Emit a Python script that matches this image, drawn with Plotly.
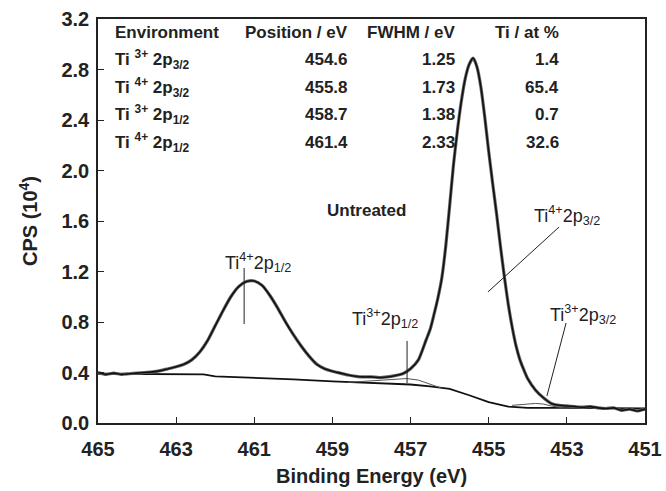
import plotly.graph_objects as go

# ---------------- data ----------------
energy = [465.0, 464.8, 464.6, 464.4, 464.2, 464.0, 463.8, 463.6, 463.4, 463.2,
          463.0, 462.8, 462.6, 462.4, 462.2, 462.0, 461.8, 461.6, 461.4, 461.2,
          461.0, 460.8, 460.6, 460.4, 460.2, 460.0, 459.8, 459.6, 459.4, 459.2,
          459.0, 458.8, 458.6, 458.4, 458.2, 458.0, 457.8, 457.6, 457.4, 457.2,
          457.0, 456.8, 456.6, 456.5, 456.4, 456.3, 456.2, 456.1, 456.0, 455.9,
          455.8, 455.7, 455.6, 455.5, 455.4, 455.3, 455.2, 455.1, 455.0, 454.9,
          454.8, 454.7, 454.6, 454.5, 454.4, 454.3, 454.2, 454.1, 454.0, 453.8,
          453.6, 453.4, 453.2, 453.0, 452.8, 452.6, 452.4, 452.2, 452.0, 451.8,
          451.6, 451.4, 451.2, 451.0]
cps = [0.40, 0.385, 0.395, 0.385, 0.39, 0.395, 0.40, 0.405, 0.415, 0.43,
       0.445, 0.465, 0.50, 0.56, 0.65, 0.77, 0.89, 1.00, 1.08, 1.12,
       1.125, 1.09, 1.01, 0.91, 0.80, 0.70, 0.61, 0.53, 0.465, 0.43,
       0.41, 0.395, 0.38, 0.37, 0.365, 0.365, 0.36, 0.365, 0.375, 0.39,
       0.43, 0.50, 0.66, 0.74, 0.86, 0.99, 1.15, 1.40, 1.72, 2.05,
       2.32, 2.55, 2.73, 2.84, 2.89, 2.82, 2.66, 2.42, 2.15, 1.90,
       1.66, 1.40, 1.16, 0.94, 0.76, 0.61, 0.50, 0.42, 0.35, 0.26,
       0.20, 0.155, 0.14, 0.135, 0.13, 0.125, 0.13, 0.12, 0.115, 0.12,
       0.10, 0.11, 0.095, 0.11]

bg_energy = [465.0, 464.0, 463.0, 462.3, 462.0, 461.0, 460.0, 459.0, 458.0, 457.0,
             456.5, 456.0, 455.5, 455.0, 454.5, 454.0, 453.0, 452.0, 451.0]
bg_cps = [0.39, 0.39, 0.39, 0.385, 0.37, 0.36, 0.345, 0.33, 0.315, 0.305,
          0.29, 0.27, 0.22, 0.165, 0.13, 0.12, 0.12, 0.12, 0.115]

ti3_p12_energy = [458.6, 458.2, 457.8, 457.4, 457.1, 456.8, 456.5, 456.2]
ti3_p12_cps = [0.322, 0.33, 0.34, 0.35, 0.352, 0.34, 0.31, 0.275]

ti3_p32_energy = [454.4, 454.1, 453.8, 453.6, 453.4, 453.1]
ti3_p32_cps = [0.14, 0.15, 0.155, 0.15, 0.135, 0.12]

table_header = ["Environment", "Position / eV", "FWHM / eV", "Ti / at %"]
table_env = ["Ti <sup>3+</sup> 2p<sub>3/2</sub>", "Ti <sup>4+</sup> 2p<sub>3/2</sub>",
             "Ti <sup>3+</sup> 2p<sub>1/2</sub>", "Ti <sup>4+</sup> 2p<sub>1/2</sub>"]
table_pos = ["454.6", "455.8", "458.7", "461.4"]
table_fwhm = ["1.25", "1.73", "1.38", "2.33"]
table_at = ["1.4", "65.4", "0.7", "32.6"]

x_ticks = [465, 463, 461, 459, 457, 455, 453, 451]
y_ticks = [0.0, 0.4, 0.8, 1.2, 1.6, 2.0, 2.4, 2.8, 3.2]

FONT = "Liberation Sans, Arial, sans-serif"

fig = go.Figure()
fig.add_trace(go.Scatter(x=bg_energy, y=bg_cps, mode="lines",
                         line=dict(color="#111", width=1.8), hoverinfo="skip"))
fig.add_trace(go.Scatter(x=ti3_p12_energy, y=ti3_p12_cps, mode="lines",
                         line=dict(color="#555", width=1), hoverinfo="skip"))
fig.add_trace(go.Scatter(x=ti3_p32_energy, y=ti3_p32_cps, mode="lines",
                         line=dict(color="#555", width=1), hoverinfo="skip"))
fig.add_trace(go.Scatter(x=energy, y=cps, mode="lines",
                         line=dict(color="#666", width=3.2, shape="spline", smoothing=0.6),
                         hoverinfo="skip"))
fig.add_trace(go.Scatter(x=energy, y=cps, mode="lines",
                         line=dict(color="#111", width=1.6, shape="spline", smoothing=0.6),
                         hoverinfo="skip"))

# ------------- table --------------
col_x = [464.62, 458.55, 455.81, 453.15]
row_y = [3.097, 2.883, 2.661, 2.44, 2.218]
tfont = dict(family=FONT, size=17, color="#222", weight="bold")
for j, h in enumerate(table_header):
    fig.add_annotation(x=col_x[j], y=row_y[0], text=h, showarrow=False,
                       xanchor="left" if j == 0 else "right", yanchor="middle", font=tfont)
for i in range(4):
    vals = [table_env[i], table_pos[i], table_fwhm[i], table_at[i]]
    for j, v in enumerate(vals):
        fig.add_annotation(x=col_x[j], y=row_y[i + 1], text=v, showarrow=False,
                           xanchor="left" if j == 0 else "right", yanchor="middle", font=tfont)

fig.add_annotation(x=458.14, y=1.68, text="Untreated", showarrow=False,
                   xanchor="center", yanchor="middle",
                   font=dict(family=FONT, size=17, color="#222", weight="bold"))

lfont = dict(family=FONT, size=18, color="#222")
labels = [
    (461.8, 1.275, "Ti<sup>4+</sup>2p<sub>1/2</sub>"),
    (458.55, 0.83, "Ti<sup>3+</sup>2p<sub>1/2</sub>"),
    (453.9, 1.64, "Ti<sup>4+</sup>2p<sub>3/2</sub>"),
    (453.48, 0.86, "Ti<sup>3+</sup>2p<sub>3/2</sub>"),
]
for x, y, t in labels:
    fig.add_annotation(x=x, y=y, text=t, showarrow=False, xanchor="left",
                       yanchor="middle", font=lfont)

leaders = [
    (461.26, 1.228, 461.26, 0.784),
    (457.09, 0.65, 457.09, 0.317),
    (453.2, 1.552, 455.02, 1.038),
    (453.02, 0.792, 453.51, 0.214),
]
for x0, y0, x1, y1 in leaders:
    fig.add_shape(type="line", x0=x0, y0=y0, x1=x1, y1=y1, xref="x", yref="y",
                  line=dict(color="#222", width=1))

axfont = dict(family=FONT, size=20, color="#222", weight="bold")
fig.update_layout(
    width=666, height=491,
    margin=dict(l=98, r=21, t=19, b=68),
    paper_bgcolor="white", plot_bgcolor="white",
    showlegend=False,
    xaxis=dict(range=[465, 451], tickvals=x_ticks, ticks="inside", ticklen=6,
               tickwidth=1.2, tickcolor="#222", showgrid=False, zeroline=False,
               showline=True, linecolor="#222", linewidth=1.5, mirror=True,
               tickfont=axfont, ticklabelstandoff=7, automargin=False,
               title=dict(text="Binding Energy (eV)", font=axfont, standoff=10)),
    yaxis=dict(range=[0, 3.2], tickvals=y_ticks, tickformat=".1f", ticks="inside",
               ticklen=6, tickwidth=1.2, tickcolor="#222", showgrid=False,
               zeroline=False, showline=True, linecolor="#222", linewidth=1.5,
               mirror=True, tickfont=axfont, ticklabelstandoff=3, automargin=False,
               title=dict(text="CPS (10<sup>4</sup>)", font=axfont, standoff=18)),
)

fig.write_html("out.html")
